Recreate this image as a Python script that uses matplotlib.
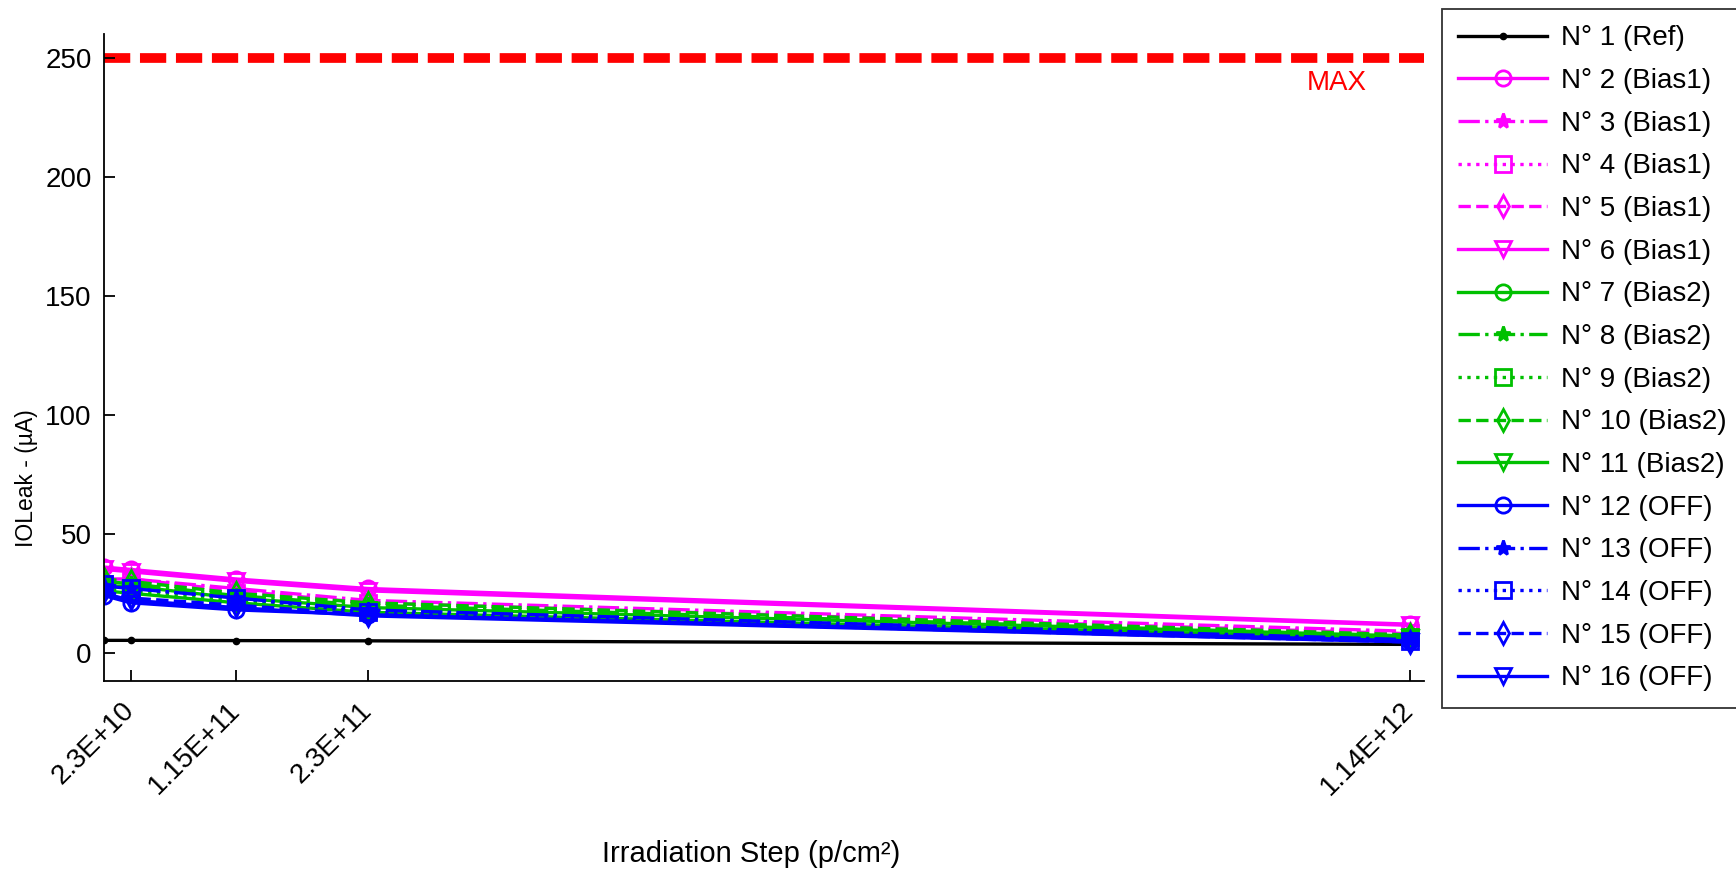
import matplotlib
matplotlib.use("Agg")
import matplotlib.pyplot as plt

plt.rcParams["font.family"] = ["Liberation Sans", "DejaVu Sans"]

# irradiation steps (p/cm2)
x_steps = [0, 2.3e10, 1.15e11, 2.3e11, 1.14e12]
x_tick_labels = ["2.3E+10", "1.15E+11", "2.3E+11", "1.14E+12"]
x_ticks = [2.3e10, 1.15e11, 2.3e11, 1.14e12]

labels = [
    "N° 1 (Ref)",
    "N° 2 (Bias1)", "N° 3 (Bias1)", "N° 4 (Bias1)", "N° 5 (Bias1)", "N° 6 (Bias1)",
    "N° 7 (Bias2)", "N° 8 (Bias2)", "N° 9 (Bias2)", "N° 10 (Bias2)", "N° 11 (Bias2)",
    "N° 12 (OFF)", "N° 13 (OFF)", "N° 14 (OFF)", "N° 15 (OFF)", "N° 16 (OFF)",
]

# IOLeak values (uA), one list per device
ioleak = [
    [5.2, 5.2, 5.1, 5.0, 3.5],
    [36, 35, 31, 27, 12],
    [31, 31, 27, 22, 9],
    [29, 30, 25, 21, 8.5],
    [30, 31, 26, 21, 8],
    [35, 34, 30, 26, 11.5],
    [28, 28, 23, 19, 7],
    [30, 29, 24, 20, 7],
    [27, 26, 22, 18, 6.5],
    [31, 30, 25, 21, 7.5],
    [26, 25, 21, 17, 6],
    [24, 21, 18, 16, 5],
    [28, 27, 23, 18, 5.5],
    [29, 27, 23, 17, 5],
    [26, 23, 20, 16, 4.5],
    [25, 22, 19, 15.5, 4.5],
]

max_limit = 250

group_colors = ["#FF00FF", "#00C000", "#0000FF"]
styles = ["-", "-.", ":", "--", "-"]
markers = ["o", "*", "s", "d", "v"]

fig = plt.figure(figsize=(17.36, 8.69), dpi=100)
ax = fig.add_axes([0.060, 0.216, 0.760, 0.745])

ax.axhline(max_limit, color="red", linewidth=7, linestyle=(0, (2.7, 1.0)), zorder=1)
ax.text(1.076e12, 239.5, "MAX", color="red", fontsize=20, ha="center", va="center")

ax.plot(x_steps, ioleak[0], color="black", linestyle="-", marker=".",
        markersize=9, linewidth=2.4, label=labels[0])
for i in range(1, 16):
    g = (i - 1) // 5
    k = (i - 1) % 5
    filled = markers[k] == "*"
    ax.plot(x_steps, ioleak[i], color=group_colors[g], linestyle=styles[k],
            marker=markers[k], markersize=11, linewidth=2.4,
            markerfacecolor=group_colors[g] if filled else "none",
            markeredgewidth=2.0, label=labels[i])

ax.set_xlim(0, 1.152e12)
ax.set_ylim(-12, 260)
ax.set_yticks([0, 50, 100, 150, 200, 250])
ax.set_xticks(x_ticks)
ax.set_xticklabels(x_tick_labels, rotation=45, ha="right", va="center",
                   rotation_mode="anchor")
ax.tick_params(direction="in", length=8, width=1.3, labelsize=20)
ax.tick_params(axis="y", pad=9)
ax.tick_params(axis="x", pad=18)
ax.spines["top"].set_visible(False)
ax.spines["right"].set_visible(False)
for s in ["left", "bottom"]:
    ax.spines[s].set_linewidth(1.3)

ax.set_ylabel("IOLeak - (µA)", fontsize=16.5)
ax.yaxis.set_label_coords(-0.050, 0.314)
ax.set_xlabel("Irradiation Step (p/cm²)", fontsize=21)
ax.xaxis.set_label_coords(0.49, -0.245)

leg = ax.legend(loc="upper left", bbox_to_anchor=(1.0137, 1.039), fontsize=20,
                frameon=True, fancybox=False, edgecolor="black",
                handlelength=3.2, labelspacing=0.6, borderpad=0.6,
                handletextpad=0.5, borderaxespad=0)
leg.get_frame().set_linewidth(1.3)

fig.savefig("out.png", dpi=100)
